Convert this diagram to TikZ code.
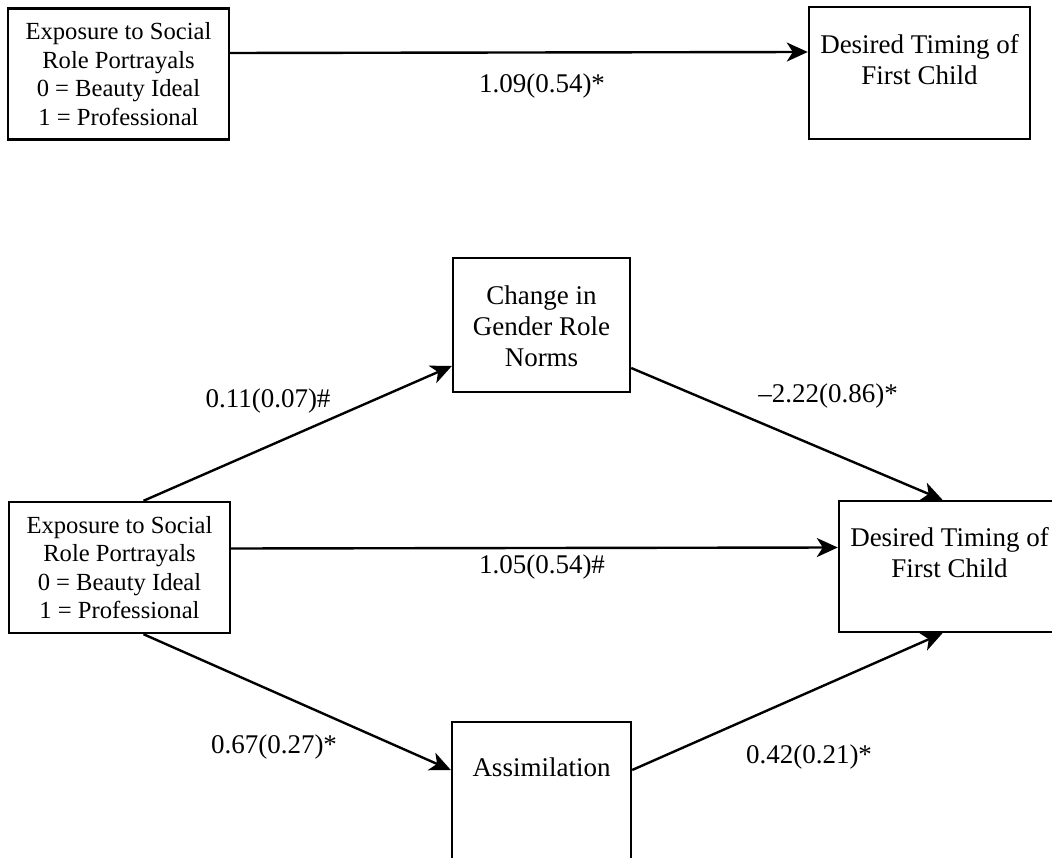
\documentclass[tikz,border=0pt]{standalone}
\usepackage{fontspec}
\setmainfont{Liberation Serif}
\usetikzlibrary{arrows.meta}

\begin{document}
\begin{tikzpicture}[x=1pt,y=-1pt,
  box/.style={draw,line width=2.4pt,inner sep=0pt},
  txt/.style={align=center,font=\fontsize{27}{31}\selectfont},
  coef/.style={font=\fontsize{27}{31}\selectfont},
  arr/.style={line width=2.4pt,-{Stealth[length=21pt,width=19pt,inset=6pt]}}]
  \useasboundingbox (0,0) rectangle (1052,858);
  \clip (0,0) rectangle (1052,858);
  % upper model: total effect
  \node[box,align=center,font=\fontsize{24.6}{28.5}\selectfont,minimum width=221pt,minimum height=131pt] (ltop) at (118.5,74)
    {Exposure to Social\\Role Portrayals\\0 = Beauty Ideal\\1 = Professional};
  \node[box,minimum width=221pt,minimum height=132pt] (rtop) at (919.5,73) {};
  \node[txt] (rtoptxt) at (919.5,60) {Desired Timing of\\First Child};
  \draw[arr] ([yshift=21pt]ltop.east) -- ([yshift=21pt]rtop.west);
  \node[coef] (ctop) at (542,86) {1.09(0.54)*};
  % lower model: mediation
  \node[box,align=center,font=\fontsize{24.6}{28.5}\selectfont,minimum width=221pt,minimum height=131pt] (lbot) at (119.5,567.5)
    {Exposure to Social\\Role Portrayals\\0 = Beauty Ideal\\1 = Professional};
  \node[box,minimum width=221pt,minimum height=131pt] (rbot) at (949.5,566.5) {};
  \node[txt] (rbottxt) at (949.5,553) {Desired Timing of\\First Child};
  \node[box,minimum width=177pt,minimum height=134pt] (chg) at (541.5,325) {};
  \node[txt] (chgtxt) at (541.5,326) {Change in\\Gender Role\\Norms};
  \node[box,minimum width=179pt,minimum height=178pt] (asm) at (541.5,811) {};
  \node[txt] (asmtxt) at (541.5,767) {Assimilation};
  \draw[arr] ([xshift=24pt]lbot.north) -- ([yshift=-41pt]chg.west);
  \draw[arr] ([yshift=-43pt]chg.east) -- ([xshift=-7pt]rbot.north);
  \draw[arr] ([yshift=19pt]lbot.east) -- ([yshift=19pt]rbot.west);
  \draw[arr] ([xshift=24pt]lbot.south) -- ([yshift=41pt]asm.west);
  \draw[arr] ([yshift=41pt]asm.east) -- ([xshift=-7pt]rbot.south);
  \node[coef] (ca) at (268,401) {0.11(0.07)\#};
  \node[coef] (cb) at (828,396) {--2.22(0.86)*};
  \node[coef] (cc) at (542,567) {1.05(0.54)\#};
  \node[coef] (cd) at (274,747) {0.67(0.27)*};
  \node[coef] (ce) at (809,757) {0.42(0.21)*};
\end{tikzpicture}
\end{document}
